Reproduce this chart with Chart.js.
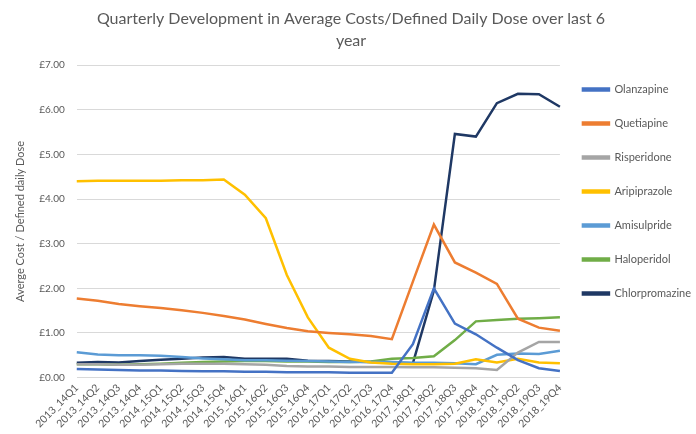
<!DOCTYPE html>
<html>
<head>
<meta charset="utf-8">
<script src="https://cdn.jsdelivr.net/npm/chart.js@4"></script>
<style>
  html, body { margin: 0; padding: 0; background: #fff; }
  #wrap { width: 696px; height: 434px; }
</style>
</head>
<body>
<div id="wrap"><canvas id="chart1"></canvas></div>
<script>
const quarters = ['2013_14Q1', '2013_14Q2', '2013_14Q3', '2013_14Q4', '2014_15Q1', '2014_15Q2', '2014_15Q3', '2014_15Q4',
    '2015_16Q1', '2015_16Q2', '2015_16Q3', '2015_16Q4', '2016_17Q1', '2016_17Q2', '2016_17Q3', '2016_17Q4',
    '2017_18Q1', '2017_18Q2', '2017_18Q3', '2017_18Q4', '2018_19Q1', '2018_19Q2', '2018_19Q3', '2018_19Q4'];

const olanzapine = [0.19, 0.18, 0.17, 0.16, 0.16, 0.15, 0.14, 0.14, 0.13, 0.13, 0.12, 0.12, 0.12, 0.11, 0.11, 0.11, 0.75, 2.00, 1.21, 0.97, 0.67, 0.39, 0.21, 0.15];
const quetiapine = [1.77, 1.72, 1.65, 1.60, 1.56, 1.51, 1.45, 1.38, 1.30, 1.20, 1.11, 1.04, 1.00, 0.97, 0.93, 0.86, 2.15, 3.43, 2.58, 2.35, 2.10, 1.32, 1.12, 1.05];
const risperidone = [0.30, 0.30, 0.29, 0.29, 0.30, 0.31, 0.31, 0.31, 0.30, 0.29, 0.26, 0.25, 0.25, 0.24, 0.24, 0.24, 0.23, 0.23, 0.22, 0.21, 0.17, 0.56, 0.80, 0.80];
const aripiprazole = [4.40, 4.41, 4.41, 4.41, 4.41, 4.42, 4.42, 4.44, 4.10, 3.57, 2.30, 1.35, 0.67, 0.42, 0.34, 0.31, 0.30, 0.30, 0.31, 0.41, 0.34, 0.42, 0.34, 0.32];
const amisulpride = [0.57, 0.52, 0.50, 0.50, 0.49, 0.46, 0.43, 0.41, 0.39, 0.39, 0.38, 0.37, 0.36, 0.35, 0.35, 0.35, 0.33, 0.33, 0.32, 0.30, 0.51, 0.54, 0.53, 0.60];
const haloperidol = [0.30, 0.30, 0.29, 0.30, 0.31, 0.33, 0.35, 0.36, 0.37, 0.37, 0.36, 0.36, 0.35, 0.35, 0.36, 0.42, 0.44, 0.48, 0.84, 1.26, 1.29, 1.32, 1.33, 1.35];
const chlorpromazine = [0.33, 0.35, 0.34, 0.37, 0.40, 0.42, 0.45, 0.46, 0.42, 0.42, 0.42, 0.38, 0.37, 0.36, 0.35, 0.33, 0.32, 1.95, 5.46, 5.40, 6.15, 6.36, 6.35, 6.07];

const textColor = '#595959';

function series(label, data, color) {
    return {
        label: label,
        data: data,
        borderColor: color,
        backgroundColor: color,
        borderWidth: 2.5,
        pointRadius: 0,
        tension: 0,
        fill: false
    };
}

// the default legend box is a bit too wide, trim it so the plot gets the room
const narrowLegend = {
    id: 'narrowLegend',
    afterInit(chart) {
        const legend = chart.legend;
        const fit = legend.fit;
        legend.fit = function () {
            fit.call(this);
            this.width -= 9;
        };
    }
};

const ctx1 = document.getElementById('chart1').getContext('2d');
const chart1 = new Chart(ctx1, {
    type: 'line',
    data: {
        labels: quarters,
        datasets: [
            series('Olanzapine', olanzapine, '#4472C4'),
            series('Quetiapine', quetiapine, '#ED7D31'),
            series('Risperidone', risperidone, '#A5A5A5'),
            series('Aripiprazole', aripiprazole, '#FFC000'),
            series('Amisulpride', amisulpride, '#5B9BD5'),
            series('Haloperidol', haloperidol, '#70AD47'),
            series('Chlorpromazine', chlorpromazine, '#1F3864')
        ]
    },
    plugins: [narrowLegend],
    options: {
        responsive: true,
        maintainAspectRatio: false,
        animation: false,
        layout: {
            padding: { left: 10, right: 4, top: 4, bottom: 0 }
        },
        plugins: {
            title: {
                display: true,
                text: ['Quarterly Development in Average Costs/Defined Daily Dose over last 6', 'year'],
                color: textColor,
                font: { family: 'Lato', size: 16, weight: 'normal', lineHeight: 1.35 },
                padding: { top: 4, bottom: 14 }
            },
            legend: {
                position: 'right',
                align: 'start',
                // empty legend title only used to push the items down
                title: {
                    display: true,
                    text: ' ',
                    font: { size: 10 },
                    padding: { top: 45, bottom: 0 }
                },
                labels: {
                    color: textColor,
                    font: { family: 'Lato', size: 11 },
                    boxWidth: 26,
                    boxHeight: 2,
                    padding: 23
                }
            },
            tooltip: { enabled: false }
        },
        scales: {
            y: {
                min: 0,
                max: 7,
                ticks: {
                    stepSize: 1,
                    color: textColor,
                    font: { family: 'Lato', size: 10 },
                    padding: 12,
                    callback: (v) => '£' + Number(v).toFixed(2)
                },
                grid: { color: '#d9d9d9', drawTicks: false },
                border: { display: false },
                title: {
                    display: true,
                    text: 'Averge Cost / Defined daily Dose',
                    color: textColor,
                    font: { family: 'Lato', size: 11 },
                    padding: { top: 4, bottom: 0 }
                }
            },
            x: {
                ticks: {
                    color: textColor,
                    font: { family: 'Lato', size: 10.5 },
                    minRotation: 45,
                    maxRotation: 45,
                    autoSkip: false,
                    padding: 4
                },
                grid: { display: false, drawTicks: false },
                border: { display: false }
            }
        }
    }
});
</script>
</body>
</html>
